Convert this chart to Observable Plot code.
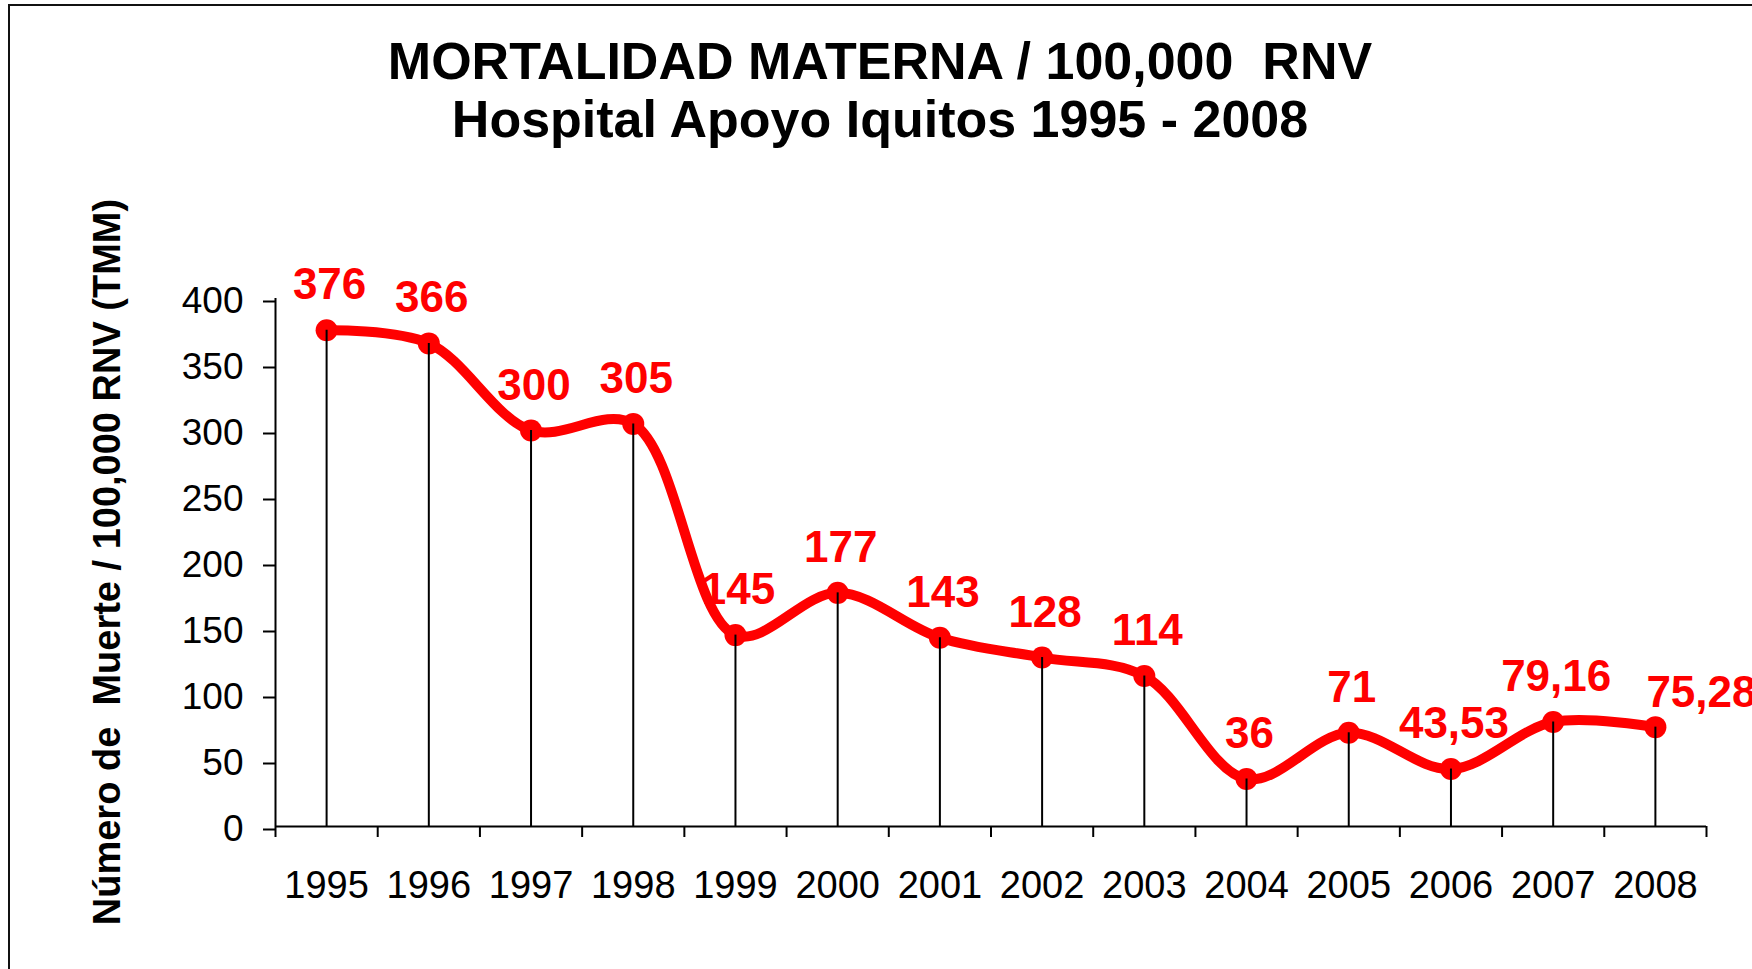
<!DOCTYPE html>
<html><head><meta charset="utf-8">
<script src="https://cdn.jsdelivr.net/npm/d3@7"></script>
<script src="https://cdn.jsdelivr.net/npm/@observablehq/plot@0.6"></script>
<style>
html,body{margin:0;padding:0;background:#fff;overflow:hidden;width:1752px;height:969px;}
#wrap{position:relative;width:1752px;height:969px;overflow:hidden;}
#frame{position:absolute;left:8px;top:4px;width:2000px;height:2000px;border-top:2px solid #111;border-left:2px solid #111;pointer-events:none;}
.t{position:absolute;left:4px;width:1752px;text-align:center;font-family:"Liberation Sans",Arial,sans-serif;font-weight:bold;font-size:52px;line-height:52px;color:#000;white-space:pre;}
#head{position:relative;height:170px;}
#ylab{position:absolute;left:-293px;top:543px;width:800px;height:38px;line-height:38px;text-align:center;font-family:"Liberation Sans",Arial,sans-serif;font-weight:bold;font-size:38px;color:#000;white-space:pre;transform:rotate(-90deg);transform-origin:400px 19px;}
#chart svg{overflow:visible;display:block;}
</style></head>
<body>
<div id="wrap">
  <div id="head">
    <div class="t" style="top:35px">MORTALIDAD MATERNA / 100,000  RNV</div>
    <div class="t" style="top:93px">Hospital Apoyo Iquitos 1995 - 2008</div>
  </div>
  <div id="chart"></div>
  <div id="ylab">Número de  Muerte / 100,000 RNV (TMM)</div>
  <div id="frame"></div>
</div>
<script>
const years = ["1995","1996","1997","1998","1999","2000","2001","2002","2003","2004","2005","2006","2007","2008"];
const values = [376, 366, 300, 305, 145, 177, 143, 128, 114, 36, 71, 43.53, 79.16, 75.28];
const labels = ["376","366","300","305","145","177","143","128","114","36","71","43,53","79,16","75,28"];
const yTicks = [0, 50, 100, 150, 200, 250, 300, 350, 400];

const data = years.map((y, k) => ({pos: k + 0.5, year: y, value: values[k], label: labels[k]}));
const last = data.length - 1;
const red = "#ff0000";
const font = "'Liberation Sans', Arial, sans-serif";

const chart = Plot.plot({
  width: 1752,
  height: 799,
  marginLeft: 275,
  marginRight: 46,
  marginTop: 128,
  marginBottom: 143,
  x: {domain: [0, years.length]},
  y: {domain: [0, 400]},
  style: {fontFamily: font, fontSize: "37px", color: "#000", background: "transparent", overflow: "visible"},
  marks: [
    Plot.ruleY([0], {x1: 0, x2: years.length, stroke: "#000", strokeWidth: 2}),
    Plot.ruleX([0], {y1: 0, y2: 400, stroke: "#000", strokeWidth: 2}),
    Plot.axisY({ticks: yTicks, tickSize: 12, tickPadding: 20, strokeWidth: 2, fontSize: 37, dy: 3, label: null}),
    Plot.axisX({ticks: d3.range(0, years.length + 1), tickSize: 11, tickFormat: () => "", strokeWidth: 2, label: null}),
    Plot.axisX({ticks: data.map(d => d.pos), tickSize: 0, tickPadding: 45, tickFormat: d => years[Math.floor(d)], fontSize: 38, label: null}),
    Plot.line(data, {x: "pos", y: "value", curve: "catmull-rom", stroke: red, strokeWidth: 10, strokeLinejoin: "round", strokeLinecap: "round"}),
    Plot.dot(data, {x: "pos", y: "value", r: 11, fill: red}),
    Plot.ruleX(data, {x: "pos", y1: 0, y2: "value", stroke: "#000", strokeWidth: 2}),
    Plot.text(data.filter((d, k) => k < last), {x: "pos", y: "value", text: "label", dx: 3, dy: -31, lineAnchor: "bottom", fill: red, fontWeight: "bold", fontSize: 44}),
    Plot.text(data.filter((d, k) => k === last), {x: "pos", y: "value", text: "label", dx: -9, dy: -20, textAnchor: "start", lineAnchor: "bottom", fill: red, fontWeight: "bold", fontSize: 44})
  ]
});
document.getElementById("chart").appendChild(chart);
</script>
</body></html>
